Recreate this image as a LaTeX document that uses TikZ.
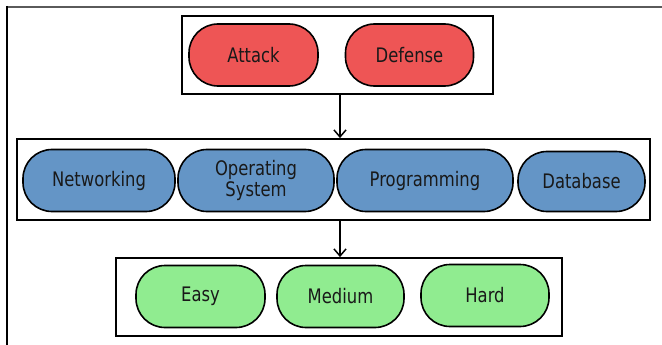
\documentclass[tikz,border=0pt]{standalone}
\usepackage{fontspec}
\setmainfont{DejaVu Sans}[FakeStretch=0.82]
\usetikzlibrary{arrows.meta}
\definecolor{pillred}{RGB}{238,85,85}
\definecolor{pillblue}{RGB}{100,149,198}
\definecolor{pillgreen}{RGB}{144,236,144}
\definecolor{framegray}{RGB}{90,90,90}
\tikzset{
  pill/.style={draw=black, line width=1.6pt, rounded corners=29pt, minimum height=62pt,
    inner sep=0pt, align=center, font=\fontsize{20}{21}\selectfont, text=black!90},
  redpill/.style={pill, fill=pillred},
  bluepill/.style={pill, fill=pillblue},
  greenpill/.style={pill, fill=pillgreen},
  group/.style={draw=black, line width=1.8pt, fill=white, inner sep=0pt},
  arr/.style={line width=1.5pt, -{Straight Barb[length=7pt,width=12pt,line width=1.5pt]}},
}
\begin{document}
\begin{tikzpicture}[x=1pt, y=-1pt]
\useasboundingbox (0,0) rectangle (662,345);
\fill[white] (0,0) rectangle (662,345);
% page frame
\draw[framegray, line width=2pt] (6,7) -- (662,7);
\draw[black, line width=1.8pt] (7,6) -- (7,345);
% groups
\node[group, minimum width=311pt, minimum height=78pt] (top) at (337.5,55) {};
\node[group, minimum width=633pt, minimum height=81pt] (mid) at (333.5,179.5) {};
\node[group, minimum width=446pt, minimum height=78pt] (bot) at (339,297) {};
% top pills
\node[redpill, minimum width=129pt] (attack) at (253.5,55) {Attack};
\node[redpill, minimum width=128pt] (defense) at (409.5,55) {Defense};
% middle pills
\node[bluepill, minimum width=152pt] (net) at (99,180.5) {Networking};
\node[bluepill, minimum width=156pt] (os) at (256,180.5) {Operating\\System};
\node[bluepill, minimum width=176pt] (prog) at (425,180.5) {Programming};
\node[bluepill, minimum width=127pt, minimum height=60pt] (db) at (581.5,181.5) {Database};
% bottom pills
\node[greenpill, minimum width=129pt] (easy) at (200.5,296.5) {Easy};
\node[greenpill, minimum width=127pt] (medium) at (340.5,296.5) {Medium};
\node[greenpill, minimum width=128pt] (hard) at (485,295.5) {Hard};
% arrows
\coordinate (axis) at (340,0);
\draw[arr] (axis |- top.south) -- (axis |- mid.north);
\draw[arr] (axis |- mid.south) -- (axis |- bot.north);
\end{tikzpicture}
\end{document}
